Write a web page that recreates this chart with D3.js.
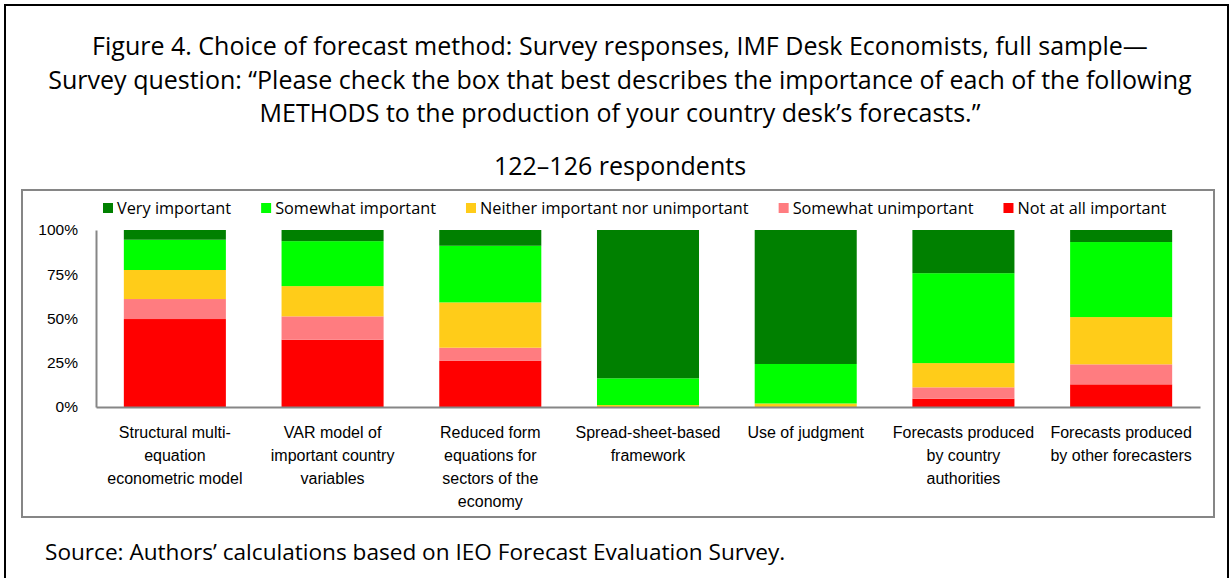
<!DOCTYPE html>
<html>
<head>
<meta charset="utf-8">
<script src="https://cdn.jsdelivr.net/npm/d3@7"></script>
<style>
  body { margin: 0; background: #fff; }
  svg { display: block; font-family: "Open Sans", "Noto Sans", sans-serif; }
</style>
</head>
<body>
<script>
const W = 1231, H = 578

// categories (bars), each label split into lines
const methods = [
	["Structural multi-", "equation", "econometric model"],
	["VAR model of", "important country", "variables"],
	["Reduced form", "equations for", "sectors of the", "economy"],
	["Spread-sheet-based", "framework"],
	["Use of judgment"],
	["Forecasts produced", "by country", "authorities"],
	["Forecasts produced", "by other forecasters"]
]

// shares of respondents (%), one array per answer
const veryImportant      = [5.5, 6.3, 8.9, 83.8, 75.7, 24.4, 6.8]
const somewhatImportant  = [17.1, 25.4, 32.0, 15.1, 22.3, 50.8, 42.4]
const neither            = [16.4, 17.1, 25.6, 1.1, 2.0, 13.7, 26.7]
const somewhatUnimportant = [11.3, 13.2, 7.3, 0, 0, 6.4, 11.3]
const notAtAll           = [49.7, 38.0, 26.2, 0, 0, 4.7, 12.8]

const yTicks = [0, 25, 50, 75, 100]

const series = [
	{ key: "notAtAll", name: "Not at all important", values: notAtAll, color: "#ff0000" },
	{ key: "somewhatUnimportant", name: "Somewhat unimportant", values: somewhatUnimportant, color: "#ff7c80" },
	{ key: "neither", name: "Neither important nor unimportant", values: neither, color: "#ffcc19" },
	{ key: "somewhatImportant", name: "Somewhat important", values: somewhatImportant, color: "#00ff00" },
	{ key: "veryImportant", name: "Very important", values: veryImportant, color: "#008000" }
]

const table = methods.map((m, i) => {
	const row = { i }
	series.forEach(s => row[s.key] = s.values[i])
	return row
})

const svg = d3.select("body").append("svg")
	.attr("width", W)
	.attr("height", H)

// outer frame
svg.append("rect")
	.attr("x", 5).attr("y", 5)
	.attr("width", W - 8).attr("height", H + 20)
	.attr("fill", "none")
	.attr("stroke", "#000")
	.attr("stroke-width", 2)

// titles
const titleLines = [
	"Figure 4. Choice of forecast method: Survey responses, IMF Desk Economists, full sample\u2014",
	"Survey question: \u201cPlease check the box that best describes the importance of each of the following",
	"METHODS to the production of your country desk\u2019s forecasts.\u201d"
]
svg.append("g")
	.selectAll("text")
	.data(titleLines)
	.join("text")
	.attr("x", 620)
	.attr("y", (d, i) => 55 + i * 33.5)
	.attr("text-anchor", "middle")
	.attr("font-size", 25)
	.attr("fill", "#000")
	.text(d => d)

svg.append("text")
	.attr("x", 620)
	.attr("y", 175)
	.attr("text-anchor", "middle")
	.attr("font-size", 25)
	.text("122\u2013126 respondents")

// chart box
svg.append("rect")
	.attr("x", 22).attr("y", 190)
	.attr("width", 1192).attr("height", 327)
	.attr("fill", "#fff")
	.attr("stroke", "#868686")
	.attr("stroke-width", 2)

const margin = { left: 96, right: 1200, top: 230, bottom: 407 }

const x = d3.scaleBand()
	.domain(d3.range(methods.length))
	.range([margin.left, margin.right])
	.paddingInner(0.353)
	.paddingOuter(0.1765)

const y = d3.scaleLinear()
	.domain([0, 100])
	.range([margin.bottom, margin.top])

const stack = d3.stack().keys(series.map(s => s.key))
const stacked = stack(table)

svg.append("g")
	.selectAll("g")
	.data(stacked)
	.join("g")
	.attr("fill", (d, i) => series[i].color)
	.selectAll("rect")
	.data(d => d)
	.join("rect")
	.attr("x", d => x(d.data.i))
	.attr("width", x.bandwidth())
	.attr("y", d => y(d[1]))
	.attr("height", d => y(d[0]) - y(d[1]))

// y axis
const yAxis = svg.append("g")
	.attr("transform", `translate(${margin.left},0)`)
	.call(d3.axisLeft(y).tickValues(yTicks).tickFormat(d => d + "%").tickSize(0).tickPadding(18))
yAxis.select(".domain").attr("stroke", "#868686").attr("stroke-width", 2)
yAxis.selectAll("text").attr("font-size", 15.5).attr("font-family", null).attr("fill", "#000")

// x axis
const xAxis = svg.append("g")
	.attr("transform", `translate(0,${margin.bottom})`)
	.call(d3.axisBottom(x).tickSize(0).tickFormat(""))
xAxis.select(".domain").attr("stroke", "#868686").attr("stroke-width", 2)

xAxis.selectAll(".tick text").remove()
xAxis.selectAll(".tick")
	.append("text")
	.attr("text-anchor", "middle")
	.attr("font-size", 16)
	.attr("fill", "#000")
	.selectAll("tspan")
	.data(d => methods[d])
	.join("tspan")
	.attr("x", 0)
	.attr("y", (d, i) => 30.5 + i * 23)
	.text(d => d)

// legend
const legendOrder = series.slice().reverse()
const legend = svg.append("g").attr("transform", "translate(103,208)")
let lx = 0
legendOrder.forEach(s => {
	const g = legend.append("g").attr("transform", `translate(${lx},0)`)
	g.append("rect")
		.attr("x", 0).attr("y", -5)
		.attr("width", 10).attr("height", 10)
		.attr("fill", s.color)
	const t = g.append("text")
		.attr("x", 14)
		.attr("y", 6)
		.attr("font-size", 16.3)
		.text(s.name)
	lx += 14 + t.node().getComputedTextLength() + 30
})

// source
svg.append("text")
	.attr("x", 45)
	.attr("y", 560)
	.attr("font-size", 22.6)
	.text("Source: Authors\u2019 calculations based on IEO Forecast Evaluation Survey.")
</script>
</body>
</html>
